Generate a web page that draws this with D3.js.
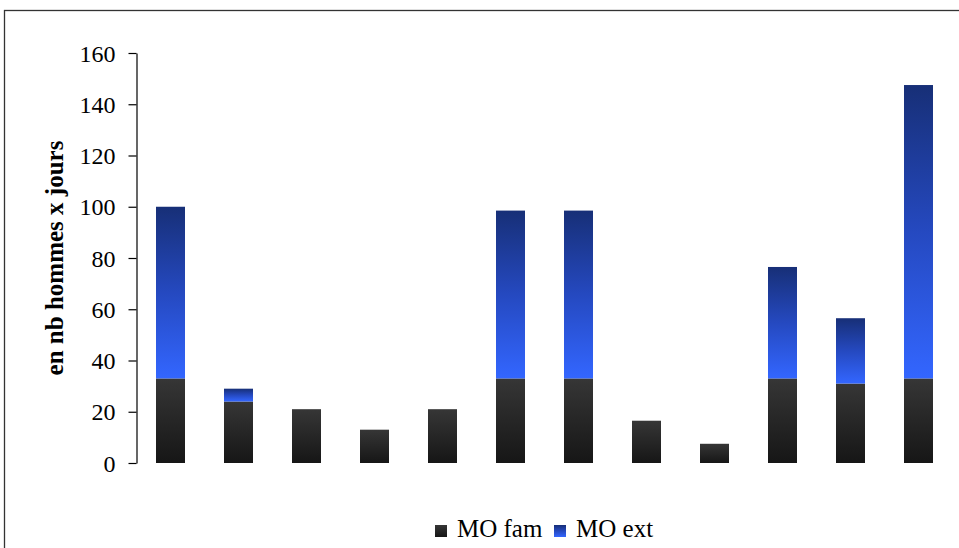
<!DOCTYPE html>
<html>
<head>
<meta charset="utf-8">
<script src="https://cdn.jsdelivr.net/npm/d3@7"></script>
<style>
  html, body { margin: 0; padding: 0; background: #fff; }
  svg { display: block; }
  text { font-family: "Liberation Serif", Tinos, "Times New Roman", Times, "Nimbus Roman", "DejaVu Serif", serif; fill: #000; }
</style>
</head>
<body>
<svg id="chart" width="959" height="548"></svg>
<script>
const categories = ["1","2","3","4","5","6","7","8","9","10","11","12"];
const moFam = [33, 24, 21, 13, 21, 33, 33, 16.5, 7.5, 33, 31, 33];
const moExt = [67, 5, 0, 0, 0, 65.5, 65.5, 0, 0, 43.5, 25.5, 114.5];
const seriesNames = ["MO fam", "MO ext"];
const yTicks = [0, 20, 40, 60, 80, 100, 120, 140, 160];
const FONT = '"Liberation Serif", Tinos, "Times New Roman", Times, "Nimbus Roman", "DejaVu Serif", serif';

const svg = d3.select("#chart");
const W = 959, H = 548;
const margin = { left: 136.5, right: 6.5, top: 53, bottom: 85 };

svg.append("rect").attr("x", 4.5).attr("y", 10.5).attr("width", 970).attr("height", 600)
  .attr("fill", "none").attr("stroke", "#333").attr("stroke-width", 1.3);

const defs = svg.append("defs");
const gFam = defs.append("linearGradient").attr("id", "gFam").attr("x1", 0).attr("y1", 0).attr("x2", 0).attr("y2", 1);
gFam.append("stop").attr("offset", "0%").attr("stop-color", "#363636");
gFam.append("stop").attr("offset", "100%").attr("stop-color", "#161616");
const gExt = defs.append("linearGradient").attr("id", "gExt").attr("x1", 0).attr("y1", 0).attr("x2", 0).attr("y2", 1);
gExt.append("stop").attr("offset", "0%").attr("stop-color", "#172f77");
gExt.append("stop").attr("offset", "50%").attr("stop-color", "#2549c0");
gExt.append("stop").attr("offset", "100%").attr("stop-color", "#3366ff");

const x = d3.scaleBand().domain(categories).range([margin.left, W - margin.right]).padding(0);
const y = d3.scaleLinear().domain([0, 160]).range([H - margin.bottom, margin.top]);

const barW = 29;
const data = categories.map((c, i) => ({ c, fam: moFam[i], ext: moExt[i] }));

const bars = svg.append("g");
bars.selectAll("rect.fam").data(data).join("rect")
  .attr("class", "fam")
  .attr("x", d => x(d.c) + x.bandwidth() / 2 - barW / 2)
  .attr("width", barW)
  .attr("y", d => y(d.fam))
  .attr("height", d => y(0) - y(d.fam))
  .attr("fill", "url(#gFam)");
bars.selectAll("rect.ext").data(data.filter(d => d.ext > 0)).join("rect")
  .attr("class", "ext")
  .attr("x", d => x(d.c) + x.bandwidth() / 2 - barW / 2)
  .attr("width", barW)
  .attr("y", d => y(d.fam + d.ext))
  .attr("height", d => y(d.fam) - y(d.fam + d.ext))
  .attr("fill", "url(#gExt)");

const yAxis = d3.axisLeft(y).tickValues(yTicks).tickSizeOuter(0).tickSizeInner(8).tickPadding(13);
const ag = svg.append("g").attr("transform", `translate(${margin.left},0)`).call(yAxis);
ag.attr("font-family", FONT).attr("font-size", 24);
ag.select(".domain").attr("stroke", "#000").attr("stroke-width", 1.2);
ag.selectAll(".tick line").attr("stroke", "#000").attr("stroke-width", 1.2);
ag.selectAll(".tick text").attr("fill", "#000").attr("dy", "0.34em");

svg.append("text")
  .attr("transform", `translate(63,${(y(0) + y(160)) / 2}) rotate(-90)`)
  .attr("text-anchor", "middle")
  .attr("font-family", FONT)
  .attr("font-size", 25).attr("font-weight", "bold")
  .text("en nb hommes x jours");

const leg = svg.append("g").attr("font-family", FONT).attr("font-size", 25);
const legItems = [
  { name: seriesNames[0], fill: "url(#gFam)", sx: 435, tx: 457 },
  { name: seriesNames[1], fill: "url(#gExt)", sx: 554, tx: 576 }
];
legItems.forEach(it => {
  leg.append("rect").attr("x", it.sx).attr("y", 525).attr("width", 12).attr("height", 12).attr("fill", it.fill);
  leg.append("text").attr("x", it.tx).attr("y", 537).text(it.name);
});
</script>
</body>
</html>
